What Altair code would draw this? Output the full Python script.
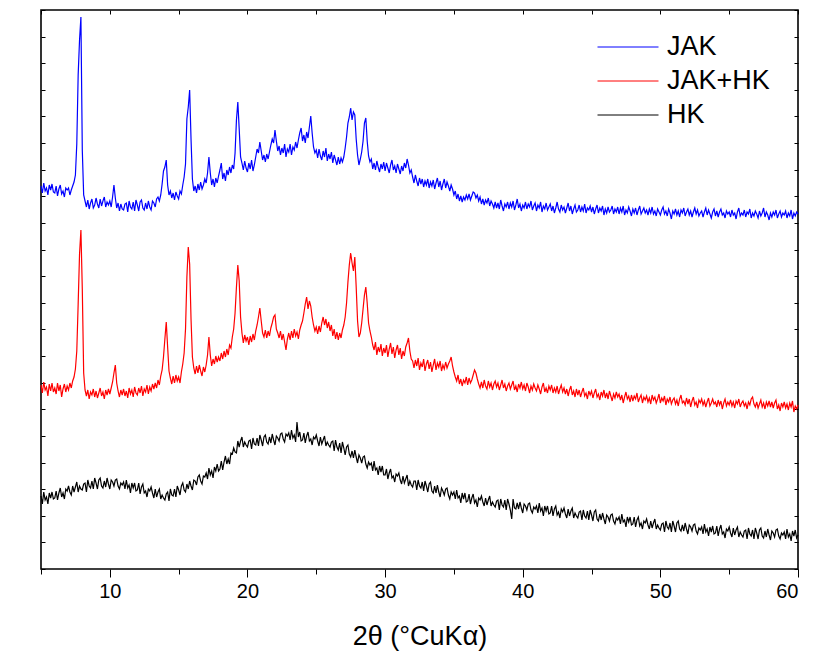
import altair as alt
import numpy as np
import pandas as pd

# 2θ sampling of the diffractograms (degrees, CuKα)
TWO_THETA_START = 5.0
TWO_THETA_STEP = 0.1

# Intensities (arbitrary units), one value per 0.1° from 5.0° to 60.0°.
# The three patterns are offset vertically for display.
jak = [
    383, 376, 386, 378, 381, 374, 384, 379, 385, 377,
    376, 383, 373, 380, 384, 375, 378, 372, 381, 379,
    381, 374, 379, 383, 387, 394, 425, 494, 529, 552,
    419, 374, 368, 362, 369, 360, 366, 370, 361, 364,
    371, 365, 361, 370, 363, 368, 372, 362, 367, 364,
    368, 362, 372, 384, 371, 361, 366, 358, 365, 360,
    359, 365, 366, 357, 368, 362, 360, 367, 358, 369,
    364, 358, 367, 369, 361, 359, 366, 360, 368, 362,
    359, 368, 366, 362, 370, 372, 368, 374, 385, 398,
    402, 409, 384, 374, 378, 371, 376, 369, 377, 373,
    370, 378, 375, 384, 392, 405, 450, 462, 479, 430,
    390, 378, 383, 376, 385, 379, 387, 380, 384, 390,
    386, 396, 412, 396, 384, 390, 382, 391, 386, 393,
    399, 406, 390, 396, 388, 399, 394, 402, 396, 404,
    400, 416, 449, 467, 440, 412, 406, 399, 408, 401,
    397, 406, 400, 409, 398, 404, 412, 420, 416, 427,
    418, 409, 414, 407, 415, 410, 417, 424, 430, 426,
    439, 428, 418, 423, 414, 421, 416, 425, 412, 420,
    417, 425, 414, 422, 419, 427, 421, 429, 436, 441,
    428, 434, 426, 437, 431, 442, 453, 436, 422, 416,
    419, 411, 420, 413, 409, 418, 412, 421, 408, 415,
    410, 417, 406, 414, 409, 404, 412, 405, 411, 407,
    412, 421, 432, 446, 452, 461, 449, 457, 454, 430,
    414, 404, 410, 417, 428, 446, 451, 428, 413, 407,
    410, 400, 406, 399, 408, 402, 397, 405, 400, 407,
    398, 406, 401, 396, 404, 409, 399, 403, 396, 405,
    400, 395, 403, 398, 406, 401, 410, 404, 396, 399,
    392, 386, 394, 388, 383, 391, 385, 390, 382, 388,
    384, 390, 381, 387, 383, 389, 380, 386, 391, 382,
    388, 379, 385, 390, 381, 387, 383, 378, 384, 380,
    374, 378, 370, 375, 368, 373, 367, 372, 369, 374,
    370, 375, 369, 373, 377, 376, 371, 374, 368, 372,
    365, 370, 364, 369, 366, 371, 363, 368, 365, 361,
    367, 361, 366, 360, 369, 363, 358, 365, 362, 367,
    360, 366, 362, 368, 359, 364, 370, 361, 365, 358,
    364, 361, 367, 360, 365, 362, 368, 359, 363, 366,
    358, 364, 361, 367, 357, 363, 360, 366, 359, 362,
    365, 358, 363, 356, 361, 367, 360, 357, 364, 359,
    362, 356, 361, 366, 358, 363, 355, 360, 364, 357,
    359, 364, 357, 362, 358, 365, 356, 361, 359, 363,
    357, 362, 355, 360, 364, 356, 361, 358, 363, 354,
    360, 356, 362, 357, 359, 363, 355, 360, 357, 362,
    355, 361, 357, 363, 354, 359, 356, 362, 358, 353,
    360, 356, 361, 354, 359, 363, 355, 358, 361, 356,
    359, 354, 360, 356, 362, 355, 358, 353, 360, 357,
    354, 359, 362, 355, 358, 353, 360, 356, 350, 358,
    355, 360, 354, 358, 352, 359, 356, 361, 353, 357,
    360, 354, 358, 352, 357, 361, 355, 359, 353, 356,
    358, 352, 357, 361, 354, 359, 355, 351, 357, 360,
    353, 358, 352, 357, 360, 354, 356, 351, 358, 355,
    357, 352, 359, 354, 356, 350, 357, 361, 353, 356,
    354, 359, 352, 357, 355, 360, 351, 356, 353, 358,
    355, 351, 358, 353, 356, 361, 352, 357, 354, 349,
    356, 352, 357, 354, 359, 351, 355, 358, 352, 356,
    354, 358, 351, 356, 353, 359, 350, 356, 353, 357,
    355,
]

jak_hk = [
    184, 176, 187, 179, 182, 173, 185, 178, 186, 177,
    181, 175, 186, 178, 184, 172, 180, 185, 177, 183,
    179, 186, 181, 188, 192, 200, 218, 265, 315, 339,
    280, 196, 179, 173, 179, 170, 177, 174, 180, 172,
    178, 171, 176, 181, 173, 177, 170, 179, 174, 180,
    175, 181, 187, 196, 204, 186, 178, 172, 179, 174,
    180, 173, 178, 171, 181, 175, 179, 172, 182, 176,
    174, 181, 176, 183, 173, 180, 177, 184, 175, 182,
    178, 185, 180, 186, 181, 189, 184, 193, 199, 212,
    230, 247, 222, 198, 191, 185, 193, 186, 194, 188,
    192, 186, 197, 205, 216, 240, 292, 322, 305, 250,
    212, 201, 195, 203, 196, 204, 198, 193, 202, 197,
    204, 214, 232, 214, 203, 210, 205, 213, 207, 212,
    208, 216, 210, 218, 212, 220, 214, 224, 221, 232,
    240, 256, 282, 304, 288, 252, 236, 226, 234, 228,
    232, 224, 233, 227, 235, 229, 238, 244, 252, 261,
    248, 236, 232, 239, 231, 238, 233, 241, 246, 252,
    254, 240, 236, 231, 238, 229, 235, 227, 219, 230,
    236, 229, 238, 231, 240, 233, 237, 230, 239, 244,
    248, 256, 265, 272, 260, 268, 263, 252, 244, 238,
    242, 235, 243, 237, 246, 252, 244, 250, 241, 247,
    238, 244, 233, 240, 230, 237, 229, 236, 231, 239,
    244, 252, 266, 287, 304, 316, 306, 298, 312, 282,
    248, 232, 236, 246, 260, 274, 282, 266, 246, 238,
    232, 224, 219, 227, 214, 222, 217, 225, 213, 221,
    216, 224, 212, 220, 226, 215, 222, 211, 219, 224,
    214, 221, 210, 218, 213, 222, 226, 231, 218, 210,
    208, 201, 209, 203, 211, 199, 206, 202, 210, 198,
    205, 209, 200, 207, 197, 204, 210, 199, 206, 202,
    208, 198, 204, 200, 207, 201, 205, 208, 212, 203,
    197, 192, 188, 194, 185, 190, 183, 189, 186, 192,
    184, 191, 186, 189, 194, 199, 196, 190, 185, 181,
    187, 181, 189, 183, 180, 188, 182, 186, 179, 185,
    188, 182, 186, 179, 184, 189, 181, 185, 178, 183,
    186, 180, 184, 188, 179, 183, 177, 185, 181, 187,
    180, 184, 178, 186, 182, 176, 183, 179, 185, 181,
    178, 184, 180, 175, 182, 186, 177, 181, 176, 183,
    179, 184, 176, 181, 177, 183, 175, 180, 184, 177,
    181, 175, 180, 173, 179, 183, 174, 178, 172, 180,
    174, 179, 172, 177, 181, 173, 176, 170, 178, 174,
    178, 171, 176, 180, 172, 175, 169, 177, 173, 179,
    171, 176, 170, 178, 173, 168, 175, 171, 177, 172,
    175, 169, 174, 166, 172, 177, 170, 173, 167, 174,
    168, 173, 170, 176, 167, 171, 174, 166, 172, 169,
    173, 167, 171, 165, 174, 169, 172, 166, 170, 175,
    166, 171, 168, 173, 164, 170, 167, 172, 165, 169,
    171, 165, 169, 163, 170, 174, 166, 168, 164, 171,
    165, 170, 162, 168, 172, 164, 167, 161, 169, 166,
    170, 164, 168, 162, 167, 171, 163, 166, 170, 165,
    167, 162, 169, 164, 168, 160, 166, 170, 163, 167,
    164, 169, 163, 167, 161, 168, 165, 170, 162, 166,
    168, 163, 166, 160, 167, 164, 170, 172, 165, 162,
    167, 161, 165, 169, 162, 166, 160, 167, 163, 168,
    162, 167, 161, 166, 169, 160, 164, 158, 166, 162,
    167, 161, 165, 159, 166, 162, 168, 157, 163, 160,
    164,
]

hk = [
    73, 65, 77, 69, 72, 65, 76, 71, 77, 70,
    71, 78, 69, 76, 81, 72, 76, 70, 80, 78,
    83, 77, 74, 83, 77, 82, 87, 77, 83, 80,
    79, 85, 86, 77, 89, 83, 81, 88, 80, 91,
    86, 80, 89, 91, 83, 81, 88, 82, 91, 85,
    80, 89, 87, 83, 89, 90, 83, 80, 86, 84,
    87, 80, 89, 81, 84, 76, 86, 81, 86, 78,
    79, 86, 75, 82, 85, 76, 78, 72, 80, 78,
    82, 76, 71, 80, 72, 77, 80, 70, 74, 71,
    69, 75, 77, 68, 80, 74, 73, 80, 72, 83,
    79, 74, 83, 86, 79, 77, 85, 80, 88, 83,
    79, 89, 88, 84, 92, 94, 88, 85, 93, 92,
    96, 90, 101, 94, 98, 91, 102, 98, 105, 98,
    100, 108, 99, 107, 113, 105, 110, 105, 116, 115,
    121, 117, 116, 128, 122, 128, 132, 122, 127, 124,
    122, 128, 129, 120, 131, 125, 124, 131, 123, 134,
    129, 123, 132, 134, 127, 125, 132, 126, 135, 129,
    124, 133, 131, 128, 135, 136, 130, 127, 135, 133,
    136, 129, 139, 131, 134, 127, 147, 132, 137, 128,
    129, 136, 126, 133, 137, 128, 130, 124, 132, 130,
    134, 128, 123, 132, 125, 129, 133, 123, 127, 124,
    122, 127, 128, 118, 129, 122, 119, 126, 116, 127,
    121, 114, 122, 124, 115, 112, 118, 111, 119, 112,
    106, 114, 111, 106, 112, 113, 105, 101, 107, 104,
    106, 98, 108, 99, 101, 94, 103, 97, 103, 94,
    94, 100, 90, 96, 100, 91, 93, 87, 95, 93,
    96, 89, 85, 93, 86, 90, 94, 83, 88, 84,
    82, 88, 88, 79, 89, 83, 81, 87, 78, 88,
    83, 77, 85, 87, 78, 76, 83, 76, 84, 77,
    72, 81, 78, 74, 80, 81, 74, 70, 77, 74,
    77, 70, 79, 71, 73, 66, 76, 70, 76, 67,
    68, 75, 65, 71, 75, 66, 69, 62, 71, 69,
    73, 67, 63, 71, 64, 69, 73, 63, 67, 64,
    62, 68, 69, 59, 70, 64, 62, 69, 59, 70,
    65, 59, 50, 70, 61, 60, 66, 60, 67, 61,
    56, 65, 63, 59, 65, 66, 59, 56, 62, 60,
    63, 56, 66, 58, 61, 53, 63, 58, 63, 55,
    56, 63, 53, 60, 63, 54, 57, 51, 60, 57,
    61, 55, 51, 60, 53, 58, 61, 51, 56, 53,
    51, 57, 58, 49, 59, 53, 51, 58, 49, 59,
    54, 48, 57, 59, 50, 48, 55, 49, 56, 50,
    45, 54, 52, 48, 54, 55, 48, 45, 51, 49,
    52, 45, 55, 47, 49, 42, 52, 47, 52, 44,
    45, 52, 42, 49, 52, 43, 46, 40, 48, 46,
    50, 44, 40, 48, 41, 46, 50, 40, 44, 41,
    39, 45, 46, 37, 48, 42, 40, 46, 37, 48,
    43, 37, 46, 48, 40, 38, 44, 38, 46, 40,
    35, 44, 42, 38, 44, 45, 38, 35, 41, 39,
    42, 35, 45, 37, 40, 33, 42, 37, 43, 35,
    36, 43, 33, 40, 44, 35, 37, 31, 40, 38,
    42, 36, 32, 41, 34, 39, 42, 32, 37, 34,
    32, 38, 39, 30, 41, 35, 33, 39, 30, 41,
    36, 30, 39, 41, 33, 31, 38, 32, 40, 34,
    29, 38, 36, 32, 39, 40, 33, 30, 36, 34,
    37, 30, 40, 32, 35, 28, 38, 33, 39, 31,
    34,
]

sample_names = ["JAK", "JAK+HK", "HK"]
sample_colors = ["#0000ff", "#ff0000", "#000000"]

# axis ticks
x_tick_values = [5, 10, 15, 20, 25, 30, 35, 40, 45, 50, 55, 60]
y_max = 559
y_tick_count = 21
y_tick_values = [round(y_max * k / y_tick_count, 3) for k in range(y_tick_count + 1)]

two_theta = np.round(TWO_THETA_START + TWO_THETA_STEP * np.arange(len(jak)), 1)
frames = [
    pd.DataFrame({"two_theta": two_theta, "intensity": values, "sample": name})
    for name, values in zip(sample_names, [jak, jak_hk, hk])
]
df = pd.concat(frames, ignore_index=True)

x_scale = alt.Scale(domain=[5, 60], nice=False, zero=False)
y_scale = alt.Scale(domain=[0, y_max], nice=False, zero=False)

patterns = alt.Chart(df).mark_line(strokeWidth=1.2).encode(
    x=alt.X(
        "two_theta:Q",
        scale=x_scale,
        axis=alt.Axis(
            orient="bottom",
            values=x_tick_values,
            title="2θ (°CuKα)",
            labelExpr="datum.value % 10 === 0 ? datum.label : ''",
            tickSize={"condition": {"test": "datum.value % 10 === 0", "value": 8}, "value": 5},
            labelPadding=4,
            titlePadding=22,
            domain=False,
            grid=False,
        ),
    ),
    y=alt.Y(
        "intensity:Q",
        scale=y_scale,
        axis=alt.Axis(
            orient="left",
            values=y_tick_values,
            labels=False,
            title=None,
            domain=False,
            grid=False,
            tickSize=4,
            offset=-4,
        ),
    ),
    color=alt.Color(
        "sample:N",
        scale=alt.Scale(domain=sample_names, range=sample_colors),
        legend=alt.Legend(
            title=None,
            orient="none",
            legendX=556,
            legendY=23,
            symbolType="stroke",
            symbolSize=3721,
            symbolStrokeWidth=1,
            clipHeight=28,
            labelFontSize=27,
            labelOffset=8,
            rowPadding=6,
            padding=0,
            labelColor="#000000",
            labelFont="Liberation Sans",
        ),
    ),
)

# mirrored inward ticks on the top and right edges of the frame
mirror = alt.Chart(df).mark_line(strokeOpacity=0).encode(
    x=alt.X(
        "two_theta:Q",
        scale=x_scale,
        axis=alt.Axis(orient="top", values=x_tick_values, labels=False, title=None,
                      domain=False, grid=False, tickSize=4, offset=-4),
    ),
    y=alt.Y(
        "intensity:Q",
        scale=y_scale,
        axis=alt.Axis(orient="right", values=y_tick_values, labels=False, title=None,
                      domain=False, grid=False, tickSize=4, offset=-4),
    ),
    detail="sample:N",
)

chart = (
    alt.layer(patterns, mirror)
    .properties(
        width=757,
        height=559,
        autosize=alt.AutoSizeParams(type="none"),
        padding={"left": 41, "top": 10, "right": 16, "bottom": 88},
        background="#ffffff",
    )
    .configure(font="Liberation Sans")
    .configure_view(stroke="#000000", strokeWidth=1.6)
    .configure_axis(
        labelFont="Liberation Sans",
        labelFontSize=20,
        labelColor="#000000",
        titleFont="Liberation Sans",
        titleFontSize=27,
        titleFontWeight="normal",
        titleColor="#000000",
        tickColor="#000000",
        tickWidth=1,
    )
)

chart.save("out.html", embed_options={"renderer": "svg", "actions": False})
